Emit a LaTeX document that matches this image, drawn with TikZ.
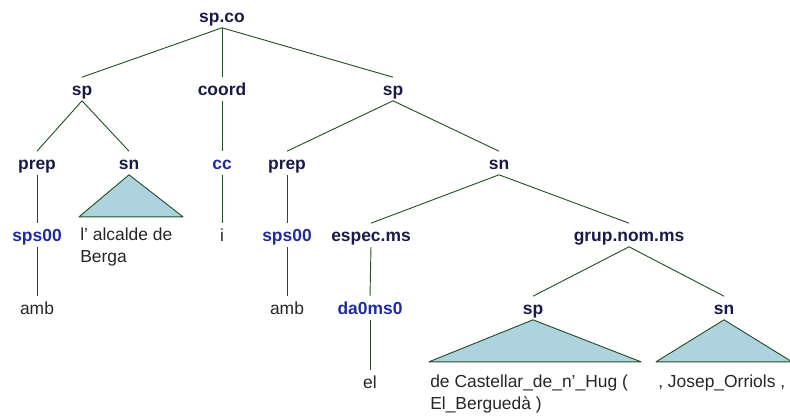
\documentclass[tikz,border=0pt]{standalone}
\usepackage{fontspec}
\setmainfont{Liberation Sans}
\usepackage{xcolor}
\definecolor{catnavy}{HTML}{1A1A48}
\definecolor{tagblue}{HTML}{1E2C9C}
\definecolor{branchgreen}{HTML}{234F23}
\definecolor{trifill}{HTML}{ADD3DE}

\tikzset{
  lab/.style={inner sep=2pt, text height=10.8pt, text depth=1.6pt,
    font=\fontsize{12.4}{15}\selectfont},
  cat/.style={lab, text=catnavy, font=\fontsize{12.4}{15}\selectfont\bfseries},
  tag/.style={lab, text=tagblue, font=\fontsize{12.4}{15}\selectfont\bfseries},
  word/.style={lab, text=black!85},
  wordblock/.style={inner sep=0pt, anchor=north west, align=left,
    text=black!85, font=\fontsize{12.4}{15.3}\selectfont},
  branch/.style={draw=branchgreen, line width=0.65pt},
  tri/.style={draw=branchgreen, fill=trifill, line width=0.65pt, line join=round}
}

\begin{document}
\begin{tikzpicture}

\useasboundingbox (0,0) rectangle (19.75,-10.4);
\clip (0,0) rectangle (19.75,-10.4);

\node[cat] (spco) at (5.55,-0.4) {sp.co};

\node[cat] (spa) at (2.05,-2.225) {sp};
\node[cat] (coord) at (5.55,-2.225) {coord};
\node[cat] (spb) at (9.825,-2.225) {sp};

\node[cat] (prepa) at (0.925,-4.075) {prep};
\node[cat] (sna) at (3.225,-4.075) {sn};
\node[tag] (cc) at (5.55,-4.075) {cc};
\node[cat] (prepb) at (7.175,-4.075) {prep};
\node[cat] (snb) at (12.475,-4.075) {sn};

\node[tag] (spsa) at (0.925,-5.875) {sps00};
\node[wordblock] (alcalde) at (2.0,-5.69) {l’ alcalde de\\Berga};
\node[word] (i) at (5.55,-5.875) {i};
\node[tag] (spsb) at (7.175,-5.875) {sps00};
\node[cat] (espec) at (9.275,-5.875) {espec.ms};
\node[cat] (grup) at (15.725,-5.875) {grup.nom.ms};

\node[word] (amba) at (0.925,-7.7) {amb};
\node[word] (ambb) at (7.175,-7.7) {amb};
\node[tag] (da) at (9.25,-7.7) {da0ms0};
\node[cat] (spc) at (13.325,-7.7) {sp};
\node[cat] (snc) at (18.1,-7.7) {sn};

\node[word] (el) at (9.25,-9.55) {el};

\draw[branch] (spco.south) -- (spa.north);
\draw[branch] (spco.south) -- (coord.north);
\draw[branch] (spco.south) -- (spb.north);
\draw[branch] (spa.south) -- (prepa.north);
\draw[branch] (spa.south) -- (sna.north);
\draw[branch] (coord.south) -- (cc.north);
\draw[branch] (spb.south) -- (prepb.north);
\draw[branch] (spb.south) -- (snb.north);
\draw[branch] (prepa.south) -- (spsa.north);
\draw[branch] (spsa.south) -- (amba.north);
\draw[branch] (cc.south) -- (i.north);
\draw[branch] (prepb.south) -- (spsb.north);
\draw[branch] (spsb.south) -- (ambb.north);
\draw[branch] (snb.south) -- (espec.north);
\draw[branch] (snb.south) -- (grup.north);
\draw[branch] (espec.south) -- (da.north);
\draw[branch] (da.south) -- (el.north);
\draw[branch] (grup.south) -- (spc.north);
\draw[branch] (grup.south) -- (snc.north);

\draw[tri] (sna.south) -- ++(-1.25,-1.05) -- ++(2.6,0) -- cycle;
\draw[tri] (spc.south) -- ++(-2.6,-1.05) -- ++(5.3,0) -- cycle;
\draw[tri] (snc.south) -- ++(-1.7,-1.05) -- ++(3.4,0) -- cycle;

\node[wordblock] (castellar) at (10.75,-9.375) {de Castellar\_de\_n’\_Hug (\\El\_Berguedà )};
\node[wordblock] (josep) at (16.45,-9.375) {, Josep\_Orriols ,};

\end{tikzpicture}
\end{document}
